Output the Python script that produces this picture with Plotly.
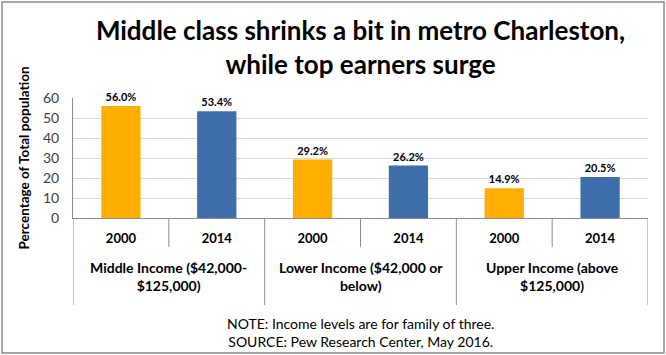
import plotly.graph_objects as go

groups = ["Middle Income ($42,000-<br>$125,000)", "Lower Income ($42,000 or<br>below)", "Upper Income (above<br>$125,000)"]
years = ["2000", "2014"]
values_2000 = [56.0, 29.2, 14.9]
values_2014 = [53.4, 26.2, 20.5]
year_colors = {"2000": "#FFAE00", "2014": "#3F6FAB"}

cats, ticktext, vals, cols = [], [], [], []
for g, a, b in zip(groups, values_2000, values_2014):
    for y, v in zip(years, [a, b]):
        cats.append(g + "|" + y)
        ticktext.append(y)
        vals.append(v)
        cols.append(year_colors[y])

W, H = 666, 355
ml, mr, mt, mb = 73, 18, 98, 137
pw, ph = W - ml - mr, H - mt - mb


def py(px):
    """pixel y (from top of figure) -> paper y"""
    return (H - mb - px) / ph


LINE = "#8C8C8C"

fig = go.Figure(go.Bar(
    x=cats, y=vals, marker=dict(color=cols, line=dict(width=0)),
    texttemplate="%{y:.1f}%", textposition="outside", cliponaxis=False,
    textfont=dict(family="Lato", size=11, color="#000000", weight="bold"),
))

fig.update_layout(
    width=W, height=H, margin=dict(l=ml, r=mr, t=mt, b=mb, autoexpand=False),
    paper_bgcolor="white", plot_bgcolor="white", showlegend=False,
    bargap=0.59,
    font=dict(family="Lato", color="#000000"),
    title=dict(text="<b>Middle class shrinks a bit in metro Charleston,<br>while top earners surge</b>",
               x=(ml + pw / 2) / W, xanchor="center", y=1 - 40 / H, yanchor="middle",
               font=dict(family="Lato", size=26, color="#000000")),
    xaxis=dict(type="category", tickvals=cats, ticktext=ticktext, automargin=False,
               showline=True, linecolor=LINE, linewidth=1, ticks="",
               ticklabelstandoff=8,
               tickfont=dict(family="Lato", size=13, color="#000000", weight="bold"),
               range=[-0.5, len(cats) - 0.5]),
    yaxis=dict(range=[0, 60], dtick=10, showgrid=True, gridcolor="#D9D9D9", gridwidth=1,
               showline=True, linecolor=LINE, linewidth=1, zeroline=False, automargin=False,
               ticks="", ticklabelstandoff=10, tickfont=dict(family="Lato", size=14, color="#404040"),
               title=dict(text="<b>Percentage of Total population</b>", standoff=10,
                          font=dict(family="Lato", size=13.5, color="#000000"))),
)

# category dividers: long ones between groups, short ones between years
n_per = len(years)
for i in range(len(groups) + 1):
    fig.add_shape(type="line", xref="x", yref="paper", x0=i * n_per - 0.5, x1=i * n_per - 0.5,
                  y0=0, y1=py(305), line=dict(color=LINE, width=1))
for i in range(len(groups)):
    for j in range(1, n_per):
        xx = i * n_per + j - 0.5
        fig.add_shape(type="line", xref="x", yref="paper", x0=xx, x1=xx,
                      y0=0, y1=py(247), line=dict(color=LINE, width=1))
    fig.add_annotation(text="<b>" + groups[i] + "</b>", xref="x", yref="paper",
                       x=i * n_per + (n_per - 1) / 2, y=py(276), xanchor="center", yanchor="middle",
                       showarrow=False, font=dict(family="Lato", size=14, color="#000000"))

fig.add_annotation(text="NOTE: Income levels are for family of three.<br>SOURCE: Pew Research Center, May 2016.",
                   xref="paper", yref="paper", x=0.5, y=py(332), xanchor="center", yanchor="middle",
                   showarrow=False, font=dict(family="Lato", size=14, color="#000000"))

fig.add_shape(type="rect", xref="paper", yref="paper",
              x0=(2 - ml) / pw, x1=(W - 2 - ml) / pw,
              y0=py(H - 2), y1=py(2),
              line=dict(color="#8A8A8A", width=1.5), fillcolor="rgba(0,0,0,0)")

fig.write_html("out.html", config={"displayModeBar": False},
               post_script="document.body.style.margin='0';document.body.style.overflow='hidden';")
